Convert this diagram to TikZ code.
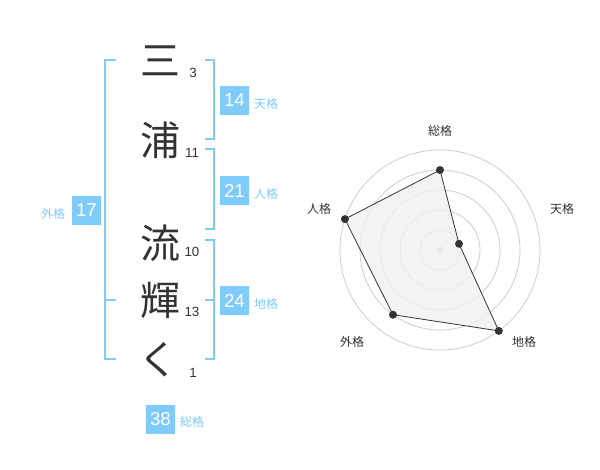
\documentclass[tikz,border=0pt]{standalone}
\usepackage{fontspec}
\setmainfont{Liberation Sans}
\newfontfamily\jpfont{Noto Sans CJK JP}
\definecolor{kakublue}{HTML}{7FCBFA}
\definecolor{inkgray}{HTML}{333333}
\definecolor{ringgray}{HTML}{CCCCCC}
\definecolor{areagray}{HTML}{F0F0F0}
\tikzset{
    kanji/.style={text=inkgray, font=\jpfont\fontsize{30}{30}\selectfont, inner sep=0pt},
    strokes/.style={text=inkgray, font=\fontsize{10}{10}\selectfont, inner sep=0pt},
    kakubox/.style={fill=kakublue, text=white, minimum width=21.75pt, minimum height=21.75pt, inner sep=0pt, font=\fontsize{14}{14}\selectfont},
    kakuname/.style={text=kakublue, font=\jpfont\fontsize{9}{9}\selectfont, inner sep=0pt},
    bracket/.style={draw=kakublue, line width=1.5pt},
    axisname/.style={text=inkgray, font=\jpfont\fontsize{9}{9}\selectfont, inner sep=0pt},
    ring/.style={draw=ringgray, line width=0.6pt},
    vertex/.style={circle, fill=inkgray, inner sep=0pt, minimum size=6pt}
}
\begin{document}
\begin{tikzpicture}[x=0.75pt, y=-0.75pt]
    \useasboundingbox (0,0) rectangle (600,470);

    % name characters and stroke counts
    \node[kanji] (c1) at (160,61) {三};
    \node[strokes] (n1) at (193,73) {3};
    \node[kanji] (c2) at (160,140) {浦};
    \node[strokes] (n2) at (192,153) {11};
    \node[kanji] (c3) at (160,243) {流};
    \node[strokes] (n3) at (192,252) {10};
    \node[kanji] (c4) at (160,300) {輝};
    \node[strokes] (n4) at (192,312) {13};
    \node[kanji] (c5) at (158,360) {く};
    \node[strokes] (n5) at (193,373) {1};

    % brackets
    \draw[bracket] (116,60) -- (105,60) -- (105,359) -- (116,359);
    \draw[bracket] (105,300) -- (116,300);
    \draw[bracket] (205,60) -- (214,60) -- (214,139) -- (205,139);
    \draw[bracket] (205,149) -- (214,149) -- (214,229) -- (205,229);
    \draw[bracket] (205,240) -- (214,240) -- (214,359) -- (205,359);
    \draw[bracket] (205,300) -- (214,300);

    % kaku values
    \node[kakubox] (ten) at (234.5,100.5) {14};
    \node[kakuname] (tenname) at (266,104) {天格};
    \node[kakubox] (jin) at (234.5,190.5) {21};
    \node[kakuname] (jinname) at (266,194) {人格};
    \node[kakubox] (gai) at (86.5,210.5) {17};
    \node[kakuname] (gainame) at (53,214) {外格};
    \node[kakubox] (chi) at (234.5,300.5) {24};
    \node[kakuname] (chiname) at (266,304) {地格};
    \node[kakubox] (sou) at (160.5,419) {38};
    \node[kakuname] (souname) at (192,422) {総格};

    % radar chart
    \begin{scope}[shift={(440,250)}, y=0.75pt]
        \foreach \r in {20,40,...,100}
            \draw[ring] (0,0) circle[radius=\r];
        \fill[ringgray] (0,0) circle[radius=3.5];
        \coordinate (psou) at (90:80);
        \coordinate (pten) at (18:20);
        \coordinate (pchi) at (-54:100);
        \coordinate (pgai) at (-126:80);
        \coordinate (pjin) at (162:100);
        \filldraw[fill=areagray, fill opacity=0.8, draw=inkgray, line width=0.6pt]
            (psou) -- (pten) -- (pchi) -- (pgai) -- (pjin) -- cycle;
        \foreach \p in {psou,pten,pchi,pgai,pjin}
            \node[vertex] at (\p) {};
    \end{scope}
    \node[axisname] (asou) at (440,131) {総格};
    \node[axisname] (aten) at (562,209) {天格};
    \node[axisname] (achi) at (524,342) {地格};
    \node[axisname] (agai) at (352,342) {外格};
    \node[axisname] (ajin) at (319,209) {人格};

\end{tikzpicture}
\end{document}
